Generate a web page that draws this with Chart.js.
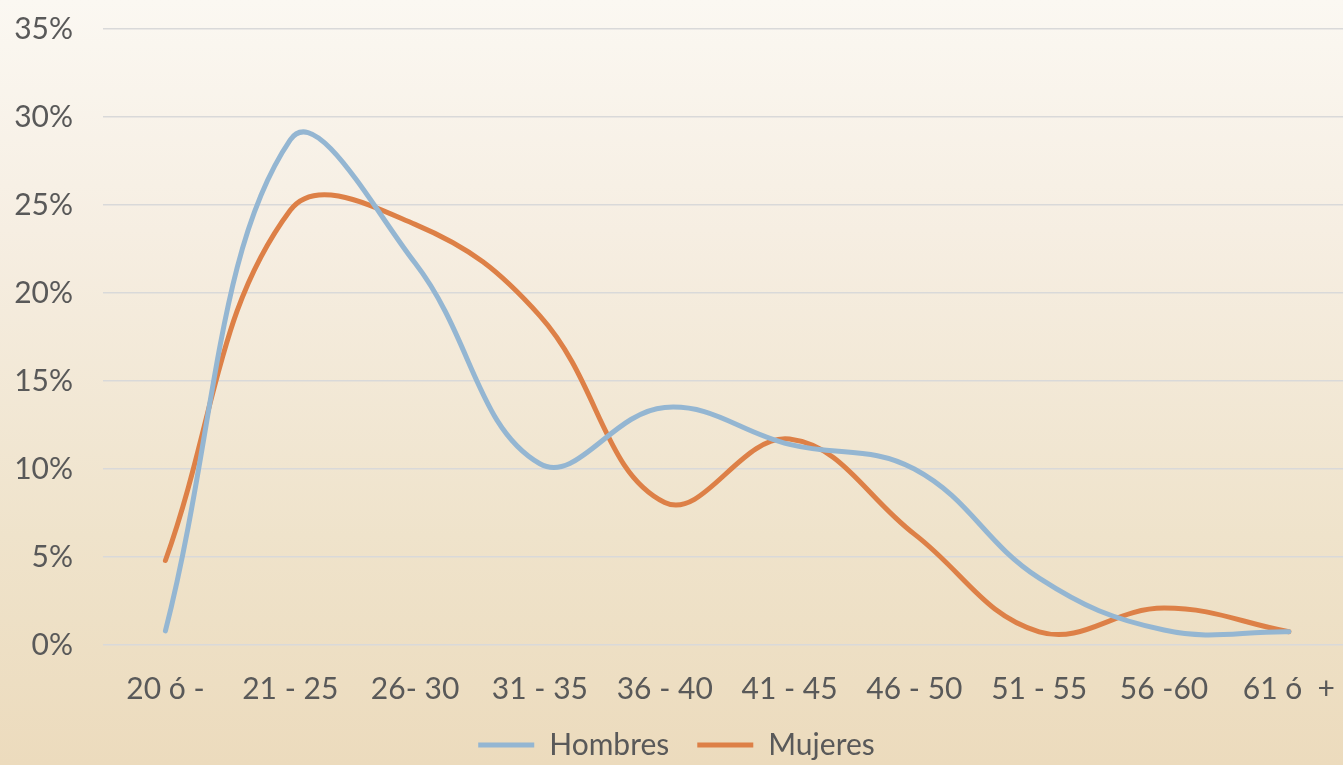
<!DOCTYPE html>
<html>
<head>
<meta charset="utf-8">
<script src="https://cdn.jsdelivr.net/npm/chart.js@4"></script>
<style>
  html, body { margin: 0; padding: 0; overflow: hidden; }
  body {
    width: 1343px; height: 765px;
    background: linear-gradient(to bottom, #fbf8f2 0%, #f6eee2 30%, #efe3cb 70%, #ecdbbd 100%);
  }
  #wrap { width: 1353px; height: 765px; }
</style>
</head>
<body>
<div id="wrap"><canvas id="grafico"></canvas></div>
<script>
const categorias = ['20 ó -', '21 - 25', '26- 30', '31 - 35', '36 - 40', '41 - 45', '46 - 50', '51 - 55', '56 -60', '61 ó  +'];
const hombres = [0.8, 28.7, 21.7, 10.3, 13.5, 11.4, 10.0, 3.8, 0.85, 0.75];
const mujeres = [4.8, 24.7, 23.9, 18.7, 8.1, 11.7, 6.3, 0.75, 2.1, 0.75];
const ticksY = [0, 5, 10, 15, 20, 25, 30, 35];

const fuente = 'Lato, "Open Sans", sans-serif';
const gris = '#595959';

const ctx = document.getElementById('grafico').getContext('2d');
const myChart = new Chart(ctx, {
    type: 'line',
    data: {
        labels: categorias,
        datasets: [{
            label: 'Hombres',
            data: hombres,
            borderColor: '#94b6d2',
            backgroundColor: '#94b6d2',
            borderWidth: 5,
            borderCapStyle: 'round',
            pointRadius: 0,
            tension: 0.4
        }, {
            label: 'Mujeres',
            data: mujeres,
            borderColor: '#dd8047',
            backgroundColor: '#dd8047',
            borderWidth: 5,
            borderCapStyle: 'round',
            pointRadius: 0,
            tension: 0.4
        }]
    },
    options: {
        responsive: true,
        maintainAspectRatio: false,
        animation: false,
        layout: { padding: { top: 29, right: 0, left: 0, bottom: -5 } },
        plugins: {
            tooltip: { enabled: false },
            legend: {
                position: 'bottom',
                labels: {
                    color: gris,
                    font: { family: fuente, size: 30 },
                    usePointStyle: true,
                    pointStyle: 'line',
                    pointStyleWidth: 56,
                    padding: 28
                }
            }
        },
        scales: {
            x: {
                offset: true,
                grid: { display: false },
                border: { display: false },
                ticks: {
                    color: gris,
                    font: { family: fuente, size: 30 },
                    padding: 18,
                    maxRotation: 0,
                    autoSkip: false
                },
                afterFit: function (scale) { scale.height = 57; }
            },
            y: {
                min: 0,
                max: 35,
                afterBuildTicks: function (scale) {
                    scale.ticks = ticksY.map(v => ({ value: v }));
                },
                grid: { color: '#d9d9d9', lineWidth: 1.5, drawTicks: false },
                border: { display: false },
                ticks: {
                    color: gris,
                    font: { family: fuente, size: 30 },
                    padding: 30,
                    callback: v => v + '%'
                },
                afterFit: function (scale) {
                    scale.width = 103;
                    scale.paddingTop = 0;
                    scale.paddingBottom = 0;
                }
            }
        }
    }
});
</script>
</body>
</html>
